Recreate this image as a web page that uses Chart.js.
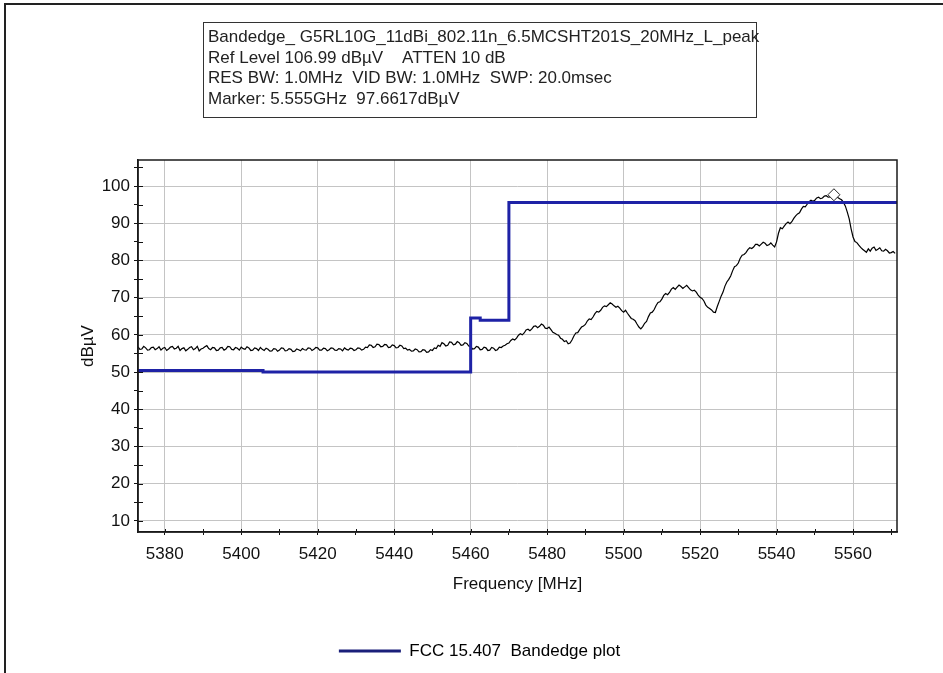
<!DOCTYPE html>
<html><head><meta charset="utf-8">
<script src="https://cdn.jsdelivr.net/npm/chart.js@4.4.1/dist/chart.umd.min.js"></script>
<style>
html,body{margin:0;padding:0;background:#fff;}
#wrap{position:relative;width:943px;height:673px;overflow:hidden;background:#fff;}
#c{position:absolute;left:0;top:0;}
#frameTop{position:absolute;left:4px;top:3px;width:939px;height:0;border-top:2px solid #222;}
#frameLeft{position:absolute;left:4px;top:3px;width:0;height:670px;border-left:2px solid #222;}
#info{position:absolute;left:203px;top:22px;width:554px;height:96px;border:1.5px solid #333;font:17px "Liberation Sans",Arial,sans-serif;color:#222;box-sizing:border-box;padding:4px 0 0 4px;line-height:20.5px;white-space:nowrap;}
</style></head>
<body>
<div id="wrap">
<canvas id="c" width="943" height="673"></canvas>
<div id="frameTop"></div><div id="frameLeft"></div>
<div id="info">
<div>Bandedge_ G5RL10G_11dBi_802.11n_6.5MCSHT201S_20MHz_L_peak</div>
<div>Ref Level 106.99 dBµV&nbsp;&nbsp;&nbsp;&nbsp;ATTEN 10 dB</div>
<div>RES BW: 1.0MHz&nbsp;&nbsp;VID BW: 1.0MHz&nbsp;&nbsp;SWP: 20.0msec</div>
<div>Marker: 5.555GHz&nbsp;&nbsp;97.6617dBµV</div>
</div>
</div>
<script>
// ---- data ----
const traceFreq = [
5373,5373.5,5374,5374.5,5375,5375.5,5376,5376.5,5377,5377.5,
5378,5378.5,5379,5379.5,5380,5380.5,5381,5381.5,5382,5382.5,
5383,5383.5,5384,5384.5,5385,5385.5,5386,5386.5,5387,5387.5,
5388,5388.5,5389,5389.5,5390,5390.5,5391,5391.5,5392,5392.5,
5393,5393.5,5394,5394.5,5395,5395.5,5396,5396.5,5397,5397.5,
5398,5398.5,5399,5399.5,5400,5400.5,5401,5401.5,5402,5402.5,
5403,5403.5,5404,5404.5,5405,5405.5,5406,5406.5,5407,5407.5,
5408,5408.5,5409,5409.5,5410,5410.5,5411,5411.5,5412,5412.5,
5413,5413.5,5414,5414.5,5415,5415.5,5416,5416.5,5417,5417.5,
5418,5418.5,5419,5419.5,5420,5420.5,5421,5421.5,5422,5422.5,
5423,5423.5,5424,5424.5,5425,5425.5,5426,5426.5,5427,5427.5,
5428,5428.5,5429,5429.5,5430,5430.5,5431,5431.5,5432,5432.5,
5433,5433.5,5434,5434.5,5435,5435.5,5436,5436.5,5437,5437.5,
5438,5438.5,5439,5439.5,5440,5440.5,5441,5441.5,5442,5442.5,
5443,5443.5,5444,5444.5,5445,5445.5,5446,5446.5,5447,5447.5,
5448,5448.5,5449,5449.5,5450,5450.5,5451,5451.5,5452,5452.5,
5453,5453.5,5454,5454.5,5455,5455.5,5456,5456.5,5457,5457.5,
5458,5458.5,5459,5459.5,5460,5460.5,5461,5461.5,5462,5462.5,
5463,5463.5,5464,5464.5,5465,5465.5,5466,5466.5,5467,5467.5,
5468,5468.5,5469,5469.5,5470,5470.5,5471,5471.5,5472,5472.5,
5473,5473.5,5474,5474.5,5475,5475.5,5476,5476.5,5477,5477.5,
5478,5478.5,5479,5479.5,5480,5480.5,5481,5481.5,5482,5482.5,
5483,5483.5,5484,5484.5,5485,5485.5,5486,5486.5,5487,5487.5,
5488,5488.5,5489,5489.5,5490,5490.5,5491,5491.5,5492,5492.5,
5493,5493.5,5494,5494.5,5495,5495.5,5496,5496.5,5497,5497.5,
5498,5498.5,5499,5499.5,5500,5500.5,5501,5501.5,5502,5502.5,
5503,5503.5,5504,5504.5,5505,5505.5,5506,5506.5,5507,5507.5,
5508,5508.5,5509,5509.5,5510,5510.5,5511,5511.5,5512,5512.5,
5513,5513.5,5514,5514.5,5515,5515.5,5516,5516.5,5517,5517.5,
5518,5518.5,5519,5519.5,5520,5520.5,5521,5521.5,5522,5522.5,
5523,5523.5,5524,5524.5,5525,5525.5,5526,5526.5,5527,5527.5,
5528,5528.5,5529,5529.5,5530,5530.5,5531,5531.5,5532,5532.5,
5533,5533.5,5534,5534.5,5535,5535.5,5536,5536.5,5537,5537.5,
5538,5538.5,5539,5539.5,5540,5540.5,5541,5541.5,5542,5542.5,
5543,5543.5,5544,5544.5,5545,5545.5,5546,5546.5,5547,5547.5,
5548,5548.5,5549,5549.5,5550,5550.5,5551,5551.5,5552,5552.5,
5553,5553.5,5554,5554.5,5555,5555.5,5556,5556.5,5557,5557.5,
5558,5558.5,5559,5559.5,5560,5560.5,5561,5561.5,5562,5562.5,
5563,5563.5,5564,5564.5,5565,5565.5,5566,5566.5,5567,5567.5,
5568,5568.5,5569,5569.5,5570,5570.5,5571];
const traceLevel = [
56.8,56.1,56.2,56.9,56.5,55.9,56.0,56.6,56.7,56.0,
56.3,56.8,55.9,56.4,56.6,55.8,56.2,56.7,56.9,56.2,
56.4,56.9,55.8,56.3,56.5,55.7,56.1,56.6,56.8,56.0,
56.3,56.9,55.7,56.2,56.4,56.8,57.1,56.3,56.0,56.6,
56.5,55.8,55.9,56.5,56.6,55.9,56.2,56.9,56.8,56.1,
56.0,56.6,56.4,55.9,56.7,56.3,56.1,56.8,56.5,55.8,
55.9,56.5,56.3,55.8,56.6,56.1,55.8,56.4,56.1,55.6,
55.7,56.3,56.2,55.6,55.9,56.5,56.4,55.7,55.8,56.3,
56.1,55.5,55.6,56.2,56.0,55.7,56.3,56.0,55.9,56.5,
56.4,55.8,56.1,56.6,56.5,55.9,55.9,56.4,56.3,55.7,
56.0,56.5,56.4,55.9,55.8,56.3,56.2,55.7,56.5,56.1,
55.9,56.4,56.3,55.8,56.0,56.5,56.4,55.9,56.1,56.7,
56.6,57.3,57.2,56.6,56.8,57.5,57.4,56.8,56.9,57.4,
57.3,56.6,56.7,57.3,57.1,56.5,56.6,57.2,57.0,56.3,
56.4,55.9,56.1,55.6,55.7,56.2,56.0,55.4,55.5,56.0,
55.9,55.3,55.4,56.0,55.8,56.5,56.3,57.2,56.9,57.9,
57.6,57.0,57.2,58.1,58.0,57.3,57.5,58.2,57.9,57.2,
57.3,57.9,57.7,57.0,56.8,56.2,56.3,56.9,56.7,56.0,
56.1,56.7,56.5,55.8,55.9,56.6,56.4,55.8,56.0,56.7,
56.6,57.0,57.2,57.6,57.8,58.5,58.9,58.6,59.1,59.9,
60.3,60.0,60.5,61.3,61.5,61.1,61.6,62.3,62.4,61.9,
62.3,62.9,62.6,61.8,61.7,62.1,61.4,60.7,60.4,60.1,
59.9,59.1,58.8,58.2,58.4,57.6,57.8,58.6,59.7,60.5,
60.6,61.4,62.1,62.4,62.8,63.7,64.3,64.1,64.8,65.7,
66.3,66.1,66.6,67.4,67.8,67.6,68.1,68.6,68.3,67.8,
67.4,67.7,67.2,66.5,66.1,66.6,65.8,65.1,64.4,64.2,
63.8,62.9,62.1,61.6,62.2,63.1,63.6,64.9,65.9,66.1,
66.8,67.9,68.7,68.9,69.6,70.6,71.1,70.8,71.4,72.3,
72.7,72.2,72.8,73.4,73.0,72.5,72.9,73.3,72.7,72.1,
71.8,72.0,71.5,70.7,70.1,69.8,69.1,68.0,67.4,67.1,
66.7,66.1,66.0,67.6,69.0,70.4,71.5,73.1,74.2,74.9,
75.8,77.2,78.3,78.6,79.3,80.6,81.4,81.6,82.1,82.9,
83.4,83.2,83.6,84.3,84.3,83.9,84.4,84.9,84.6,84.0,
84.2,84.7,84.1,83.6,85.0,87.3,88.8,88.5,89.2,89.9,
90.3,89.9,90.4,91.3,92.0,92.5,92.8,93.8,94.5,94.4,
95.1,95.8,96.2,95.9,96.2,96.8,97.0,96.6,96.8,97.3,
97.4,97.0,97.1,97.6,97.6,97.2,96.9,96.6,96.3,95.6,
94.6,93.0,91.2,88.5,86.3,85.1,84.8,84.1,83.5,83.0,
82.6,82.2,83.1,82.5,83.3,83.6,82.7,83.0,83.4,82.6,
82.5,83.0,82.6,82.0,82.1,82.4,81.9];
const limitFreq  = [5373, 5405.7, 5460, 5462.5, 5470, 5571.5];
const limitLevel = [50.4, 50.0, 64.5, 63.9, 95.6, 95.6];
const markerFreq = [5555];
const markerLevel = [97.66];
const xTickValues = [5380,5390,5400,5410,5420,5430,5440,5450,5460,5470,5480,5490,5500,5510,5520,5530,5540,5550,5560,5570];
const yTickValues = [10,15,20,25,30,35,40,45,50,55,60,65,70,75,80,85,90,95,100,105];
const legendLabel = 'FCC 15.407  Bandedge plot';

const FONT = '"Liberation Sans", Arial, sans-serif';
const zip = (xs, ys) => xs.map((x, i) => ({x, y: ys[i]}));

const tickPlugin = {
  id: 'frameTicks',
  afterDraw(chart) {
    const {ctx, chartArea: a, scales: {x, y}} = chart;
    ctx.save();
    ctx.strokeStyle = '#111';
    ctx.lineWidth = 1;
    ctx.beginPath();
    x.ticks.forEach(t => { const px = Math.round(x.getPixelForValue(t.value)) + 0.5; ctx.moveTo(px, a.bottom); ctx.lineTo(px, a.bottom - 3); });
    y.ticks.forEach(t => { const py = Math.round(y.getPixelForValue(t.value)) + 0.5; ctx.moveTo(a.left, py); ctx.lineTo(a.left + 5, py); });
    ctx.stroke();
    ctx.lineWidth = 1.5;
    ctx.strokeStyle = '#1a1a1a';
    ctx.strokeRect(a.left, a.top, a.right - a.left, a.bottom - a.top);
    ctx.restore();
  }
};

new Chart(document.getElementById('c'), {
  type: 'line',
  data: {
    datasets: [
      {label: 'trace', data: zip(traceFreq, traceLevel), borderColor: '#000', borderWidth: 1.2, pointRadius: 0, fill: false, tension: 0, order: 2},
      {label: legendLabel, data: zip(limitFreq, limitLevel), stepped: 'before', borderColor: '#1e22a6', backgroundColor: '#1a1f7a', borderWidth: 3, pointRadius: 0, fill: false, order: 1},
      {label: 'marker', data: zip(markerFreq, markerLevel), showLine: false, pointStyle: 'rectRot', pointRadius: 6, pointBackgroundColor: '#fff', pointBorderColor: '#222', pointBorderWidth: 1, order: 0}
    ]
  },
  options: {
    responsive: false,
    animation: false,
    layout: {padding: {left: 62, right: 46, top: 160, bottom: 3.5}},
    plugins: {
      title: {display: false},
      tooltip: {enabled: false},
      legend: {
        display: true,
        position: 'bottom',
        labels: {
          font: {family: FONT, size: 17},
          color: '#111',
          boxWidth: 62,
          boxHeight: 3,
          padding: 10,
          filter: item => item.text === legendLabel,
          generateLabels: chart => {
            const ds = chart.data.datasets;
            return ds.map((d, i) => ({text: d.label, fillStyle: '#1a1f7a', strokeStyle: '#1a1f7a', lineWidth: 0, hidden: false, datasetIndex: i}));
          }
        }
      }
    },
    scales: {
      x: {
        type: 'linear',
        min: 5373,
        max: 5571.5,
        afterBuildTicks: s => { s.ticks = xTickValues.map(v => ({value: v})); },
        afterFit: s => { s.height = 100.5; },
        ticks: {
          autoSkip: false, maxRotation: 0, padding: 9, color: '#111',
          font: {family: FONT, size: 17},
          callback: v => (v % 20 === 0 ? String(v) : '')
        },
        grid: {
          color: c => (c.tick && c.tick.value % 20 === 0 ? '#c4c4c4' : 'rgba(0,0,0,0)'),
          tickColor: '#111', tickLength: 3, lineWidth: 1
        },
        border: {display: true, color: '#1a1a1a', width: 1.5},
        title: {display: true, text: 'Frequency [MHz]', color: '#111', font: {family: FONT, size: 17}, padding: {top: 0, bottom: 38.3}}
      },
      y: {
        type: 'linear',
        min: 7,
        max: 107,
        afterBuildTicks: s => { s.ticks = yTickValues.map(v => ({value: v})); },
        afterFit: s => { s.width = 76; },
        ticks: {
          autoSkip: false, padding: 4, color: '#111',
          font: {family: FONT, size: 17},
          callback: v => (v % 10 === 0 ? String(v) : '')
        },
        grid: {
          color: c => (c.tick && c.tick.value % 10 === 0 && c.tick.value < 107 ? '#c4c4c4' : 'rgba(0,0,0,0)'),
          tickColor: '#111', tickLength: 4, lineWidth: 1
        },
        border: {display: true, color: '#1a1a1a', width: 1.5},
        title: {display: true, text: 'dBµV', color: '#111', font: {family: FONT, size: 17}, padding: {top: 15.8, bottom: 0}}
      }
    }
  },
  plugins: [tickPlugin]
});
</script>
</body></html>
